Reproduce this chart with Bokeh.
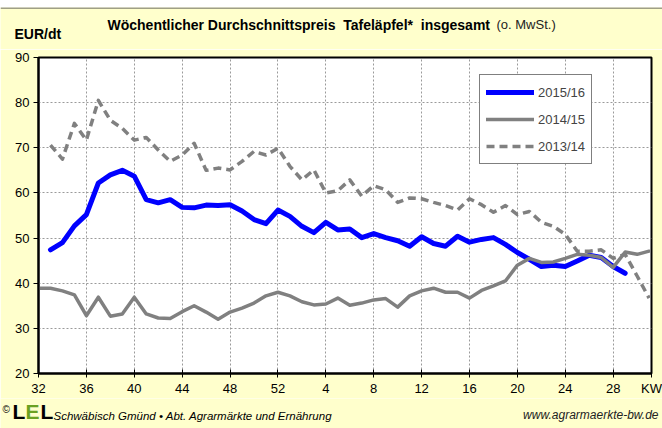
import math
from bokeh.plotting import figure
from bokeh.layouts import column
from bokeh.models import Range1d, FixedTicker, Legend, LegendItem, ColumnDataSource, Span
from bokeh.core.properties import value
from bokeh.embed import file_html
from bokeh.resources import INLINE

nan = float("nan")

# Kalenderwochen (KW 32 .. KW 52, KW 1 .. KW 31)
weeks = list(range(32, 53)) + list(range(1, 32))

price_2015_16 = [nan, 47.4, 49.0, 52.7, 55.2, 62.2, 64.0, 65.0, 63.7, 58.5,
                 57.8, 58.5, 56.8, 56.7, 57.3, 57.2, 57.4, 56.0, 54.1, 53.2,
                 56.2, 54.8, 52.6, 51.2, 53.5, 51.8, 52.0, 50.1, 51.0, 50.1,
                 49.4, 48.2, 50.3, 48.8, 48.2, 50.4, 49.1, 49.7, 50.1, 48.6,
                 46.8, 45.3, 43.7, 44.0, 43.7, 44.9, 46.2, 45.7, 43.7, 42.2,
                 nan, nan]

price_2014_15 = [38.9, 38.9, 38.3, 37.4, 32.8, 36.9, 32.7, 33.2, 36.9, 33.2,
                 32.3, 32.2, 33.7, 35.0, 33.6, 32.0, 33.6, 34.5, 35.6, 37.2,
                 38.0, 37.2, 35.9, 35.2, 35.4, 36.7, 35.1, 35.6, 36.3, 36.6,
                 34.7, 37.2, 38.3, 38.9, 38.0, 38.0, 36.7, 38.4, 39.4, 40.5,
                 44.0, 45.5, 44.6, 44.7, 45.5, 46.4, 46.2, 45.7, 43.5, 46.9,
                 46.4, 47.1]

price_2013_14 = [nan, 70.6, 67.5, 75.4, 71.7, 80.5, 76.1, 74.3, 71.7, 72.3,
                 69.5, 67.0, 68.4, 71.0, 65.0, 65.5, 65.1, 67.0, 69.2, 68.4,
                 69.9, 65.9, 62.9, 65.1, 60.0, 60.5, 62.9, 59.3, 61.6, 60.7,
                 57.9, 58.9, 58.7, 57.9, 57.2, 56.2, 58.7, 57.4, 55.7, 57.2,
                 55.2, 55.9, 53.5, 52.6, 50.8, 47.1, 47.1, 47.4, 45.5, 46.4,
                 41.6, 36.7]

tick_weeks = [32, 36, 40, 44, 48, 52, 4, 8, 12, 16, 20, 24, 28]
y_ticks = [20, 30, 40, 50, 60, 70, 80, 90]
series_names = ["2015/16", "2014/15", "2013/14"]
x_axis_title = "KW"

FONT = "Liberation Sans"
BG = "#FFFFCC"
W = 662
X_END = 51.2
NB = "\u00a0"


def text_strip(height):
    f = figure(width=W, height=height, output_backend="svg", toolbar_location=None,
               x_range=Range1d(0, W), y_range=Range1d(height, 0),
               x_axis_location=None, y_axis_location=None, min_border=0)
    if "frame_align" in f.properties():
        f.frame_align = False
    f.grid.visible = False
    f.outline_line_color = None
    f.background_fill_color = BG
    f.border_fill_color = BG
    return f


def htext(fig, x, y, txt, size, style="normal", color="black", align="left"):
    fig.text(x=[x], y=[y], text=[txt], text_font=value(FONT), text_font_size=size,
             text_font_style=style, text_color=color, text_align=align,
             text_baseline="middle")


# ---------------- header (title texts) ----------------
header = text_strip(42)
header.add_layout(Span(location=0.5, dimension="width", line_color="#404040", line_width=1))
htext(header, 107, 17, "Wöchentlicher Durchschnittspreis" + NB + NB + "Tafeläpfel*" + NB + NB + "insgesamt", "14px", "bold")
htext(header, 496, 17, "(o. MwSt.)", "13px", "normal", "#222222")
htext(header, 14, 26, "EUR/dt", "14px", "bold")

# ---------------- main chart ----------------
pos = list(range(len(weeks)))
src = ColumnDataSource(dict(x=pos, a=price_2015_16, b=price_2014_15, c=price_2013_14))

p = figure(width=W, height=349, output_backend="svg", toolbar_location=None,
           x_range=Range1d(0, X_END), y_range=Range1d(20, 90),
           min_border_left=38, min_border_right=11, min_border_top=8, min_border_bottom=23)
p.border_fill_color = BG
p.background_fill_color = "white"
p.outline_line_color = "black"
p.outline_line_width = 2

tick_pos = [weeks.index(w) for w in tick_weeks]
p.xaxis.ticker = FixedTicker(ticks=tick_pos + [X_END])
overrides = {tp: str(w) for tp, w in zip(tick_pos, tick_weeks)}
overrides[X_END] = x_axis_title
p.xaxis.major_label_overrides = overrides
p.yaxis.ticker = FixedTicker(ticks=y_ticks)
p.xaxis.minor_tick_line_color = None
p.yaxis.minor_tick_line_color = None

for ax in (p.xaxis[0], p.yaxis[0]):
    ax.axis_line_color = "black"
    ax.axis_line_width = 2
    ax.major_tick_line_color = "black"
    ax.major_tick_line_width = 1
    ax.major_label_text_font = FONT
    ax.major_label_text_font_size = "13px"
    ax.major_label_text_color = "black"

p.xaxis.major_tick_in = 4
p.xaxis.major_tick_out = 4
p.xaxis.major_label_standoff = 3
p.yaxis.major_tick_in = 0
p.yaxis.major_tick_out = 5
p.yaxis.major_label_standoff = 4

p.xgrid.ticker = FixedTicker(ticks=tick_pos)
p.ygrid.ticker = FixedTicker(ticks=y_ticks)
for g in (p.xgrid[0], p.ygrid[0]):
    g.grid_line_color = "#9a9a9a"
    g.grid_line_dash = "2 2"
    g.grid_line_width = 1

r_a = p.line("x", "a", source=src, line_color="#0000FF", line_width=5, line_join="round", line_cap="round")
r_b = p.line("x", "b", source=src, line_color="#808080", line_width=3.5, line_join="round", line_cap="round")
r_c = p.line("x", "c", source=src, line_color="#808080", line_width=3.5, line_dash="8 5", line_join="round")

legend = Legend(items=[LegendItem(label=series_names[0], renderers=[r_a]),
                       LegendItem(label=series_names[1], renderers=[r_b]),
                       LegendItem(label=series_names[2], renderers=[r_c])],
                location=(441, 209))
legend.label_text_font = FONT
legend.label_text_font_size = "13px"
legend.glyph_width = 48
legend.glyph_height = 22
legend.label_height = 22
legend.label_standoff = 4
legend.padding = 6
legend.spacing = 5
legend.margin = 0
legend.border_line_color = "black"
legend.border_line_width = 1
legend.background_fill_color = "white"
legend.background_fill_alpha = 1
p.add_layout(legend, "center")

# ---------------- footer ----------------
footer = text_strip(30)
htext(footer, 2, 11, "©", "10px")
htext(footer, 12, 13, "L", "21px", "bold")
htext(footer, 25, 13, "E", "21px", "bold", "#6aa121")
htext(footer, 40, 13, "L", "21px", "bold")
htext(footer, 53, 17, "Schwäbisch Gmünd • Abt. Agrarmärkte und Ernährung", "11.5px", "italic")
htext(footer, 658, 16, "www.agrarmaerkte-bw.de", "12px", "italic", "#222222", "right")

layout = column(header, p, footer, spacing=0, margin=(7, 0, 0, 0))
open("out.html", "w").write(file_html(layout, INLINE))
